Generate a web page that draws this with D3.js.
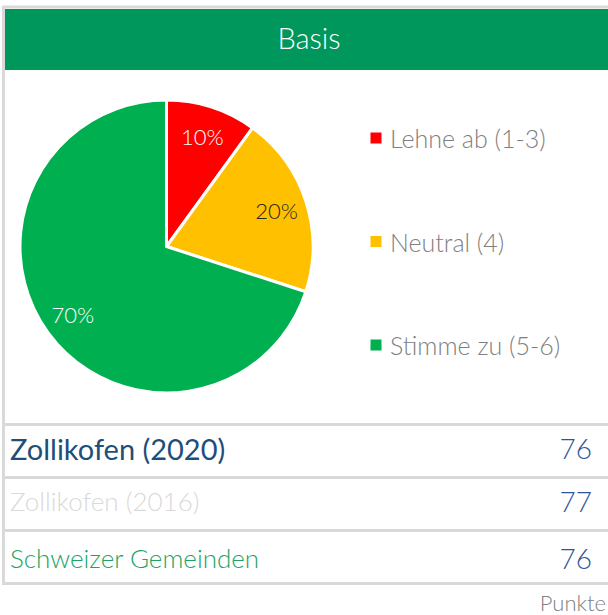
<!DOCTYPE html>
<html>
<head>
<meta charset="utf-8">
<script src="https://cdn.jsdelivr.net/npm/d3@7/dist/d3.min.js"></script>
<style>
  html, body { margin: 0; padding: 0; background: #ffffff; }
  svg { display: block; }
  text { font-family: Lato, "Open Sans", sans-serif; }
</style>
</head>
<body>
<svg id="chart" width="608" height="615"></svg>
<script>
// Survey answer shares
const categories = ["Lehne ab (1-3)", "Neutral (4)", "Stimme zu (5-6)"];
const shares = [10, 20, 70];
const sliceColors = ["#ff0000", "#ffc000", "#00b050"];
const labelColors = ["#ffffff", "#262626", "#ffffff"];

// Score comparison rows
const rowNames = ["Zollikofen (2020)", "Zollikofen (2016)", "Schweizer Gemeinden"];
const rowScores = [76, 77, 76];
const rowNameColors = ["#1f4e79", "#d9d9d9", "#1aa463"];
const rowNameWeights = [400, 300, 300];
const rowNameSizes = [29, 26, 26];

const title = "Basis";
const unitLabel = "Punkte";

const svg = d3.select("#chart");
const W = 608, H = 615;
const border = "#d9d9d9";

// Outer frame
svg.append("rect").attr("x", 3.5).attr("y", 7).attr("width", W).attr("height", 576.5)
  .attr("fill", "#ffffff").attr("stroke", border).attr("stroke-width", 3);

// Header band
svg.append("rect").attr("x", 5).attr("y", 9).attr("width", W - 5).attr("height", 61)
  .attr("fill", "#00975c");
svg.append("text").attr("x", 309).attr("y", 37).attr("text-anchor", "middle")
  .attr("dominant-baseline", "central").attr("fill", "#ffffff")
  .attr("font-size", 29).attr("font-weight", 300).text(title);

// Pie
const cx = 166.5, cy = 246.5, R = 146.5;
const pie = d3.pie().sort(null).value(d => d)(shares);
const arc = d3.arc().innerRadius(0).outerRadius(R);
const labelArc = d3.arc().innerRadius(R * 0.79).outerRadius(R * 0.79);
const g = svg.append("g").attr("transform", `translate(${cx},${cy})`);
g.selectAll("path.slice").data(pie).join("path")
  .attr("class", "slice")
  .attr("d", arc)
  .attr("fill", (d, i) => sliceColors[i])
  .attr("stroke", "#ffffff").attr("stroke-width", 3).attr("stroke-linejoin", "round");
g.selectAll("text.pct").data(pie).join("text")
  .attr("class", "pct")
  .attr("transform", d => `translate(${labelArc.centroid(d)})`)
  .attr("text-anchor", "middle").attr("dominant-baseline", "central")
  .attr("fill", (d, i) => labelColors[i])
  .attr("font-size", 22).attr("font-weight", 300)
  .text(d => d.data + "%");

// Legend
const legendY = d3.scalePoint().domain(categories).range([138, 345]);
const lg = svg.append("g");
categories.forEach((c, i) => {
  const y = legendY(c);
  lg.append("rect").attr("x", 370.5).attr("y", y - 5.5).attr("width", 11).attr("height", 11)
    .attr("fill", sliceColors[i]);
  lg.append("text").attr("x", 390).attr("y", y).attr("dominant-baseline", "central")
    .attr("fill", "#808080").attr("font-size", 25).attr("font-weight", 300).text(c);
});

// Comparison rows
const rowTop = d3.scaleLinear().domain([0, 3]).range([424.5, 583.5]);
const rowShift = [-3, -3, 1];
rowNames.forEach((name, i) => {
  const y0 = rowTop(i);
  svg.append("line").attr("x1", 3.5).attr("x2", W).attr("y1", y0).attr("y2", y0)
    .attr("stroke", border).attr("stroke-width", 3);
  const ym = (rowTop(i) + rowTop(i + 1)) / 2 + rowShift[i];
  svg.append("text").attr("x", 10).attr("y", ym).attr("dominant-baseline", "central")
    .attr("fill", rowNameColors[i]).attr("font-size", rowNameSizes[i]).attr("font-weight", rowNameWeights[i])
    .text(name);
  svg.append("text").attr("x", 592).attr("y", ym).attr("text-anchor", "end")
    .attr("dominant-baseline", "central").attr("fill", "#2f5597")
    .attr("font-size", 28).attr("font-weight", 300).text(rowScores[i]);
});

svg.append("text").attr("x", 606).attr("y", 602).attr("text-anchor", "end")
  .attr("dominant-baseline", "central").attr("fill", "#808080")
  .attr("font-size", 22).attr("font-weight", 300).text(unitLabel);
</script>
</body>
</html>
